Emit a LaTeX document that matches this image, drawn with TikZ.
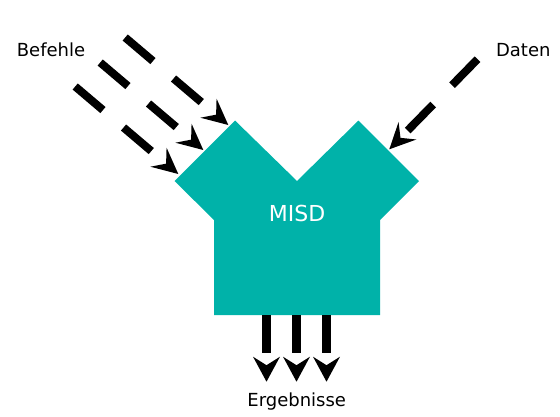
\documentclass[tikz,border=0pt]{standalone}
\usepackage{fontspec}
\setmainfont{DejaVu Sans}
\usetikzlibrary{arrows.meta, positioning, calc}
\definecolor{misdteal}{RGB}{0,178,169}

\begin{document}
\begin{tikzpicture}[
    x=1pt, y=-1pt,
    stream/.style={-{Stealth[length=26pt, width=25pt, inset=10pt, line width=0pt]}, line width=8pt, black, dash pattern=on 36.4pt off 27pt},
    result/.style={-{Stealth[length=25pt, width=27pt, inset=8.5pt, line width=0pt]}, line width=9.3pt, black, dash pattern=on 37.7pt off 60pt},
    io/.style={anchor=base, font=\fontsize{18}{20}\selectfont}
]
    \useasboundingbox (0,0) rectangle (560,416);

    % ========== MISD unit ==========
    \fill[misdteal] (174.5,181) -- (235,120.5) -- (297,181) -- (358.5,120.5) -- (419,181)
        -- (380,220) -- (380,315) -- (214,315) -- (214,220) -- cycle;
    \node (misd) [anchor=base, text=white, font=\fontsize{22}{24}\selectfont] at (297,221) {MISD};

    % Labels
    \node (befehle) [io] at (51,56.7) {Befehle};
    \node (daten) [io] at (523.3,56.7) {Daten};
    \node (ergebnisse) [io] at (296.7,406.7) {Ergebnisse};

    % ========== Instruction streams (Befehle) ==========
    \coordinate (cmd_a) at (125.2,37.5);
    \coordinate (cmd_b) at (100.2,62.5);
    \coordinate (cmd_c) at (75.2,86.5);
    \coordinate (cmd_a_in) at (228.3,125);
    \coordinate (cmd_b_in) at (203.3,150);
    \coordinate (cmd_c_in) at (178.3,174);

    \draw [stream] (cmd_a) -- (cmd_a_in);
    \draw [stream] (cmd_b) -- (cmd_b_in);
    \draw [stream] (cmd_c) -- (cmd_c_in);

    % ========== Data stream (Daten) ==========
    \coordinate (data) at (477.5,59.2);
    \coordinate (data_in) at (389.3,149.3);
    \draw [stream] (data) -- (data_in);

    % ========== Results (Ergebnisse) ==========
    \coordinate (res_a) at (266.5,315);
    \coordinate (res_b) at (296.5,315);
    \coordinate (res_c) at (326.5,315);
    \draw [result] (res_a) -- ++(0,66.7);
    \draw [result] (res_b) -- ++(0,66.7);
    \draw [result] (res_c) -- ++(0,66.7);
\end{tikzpicture}
\end{document}
